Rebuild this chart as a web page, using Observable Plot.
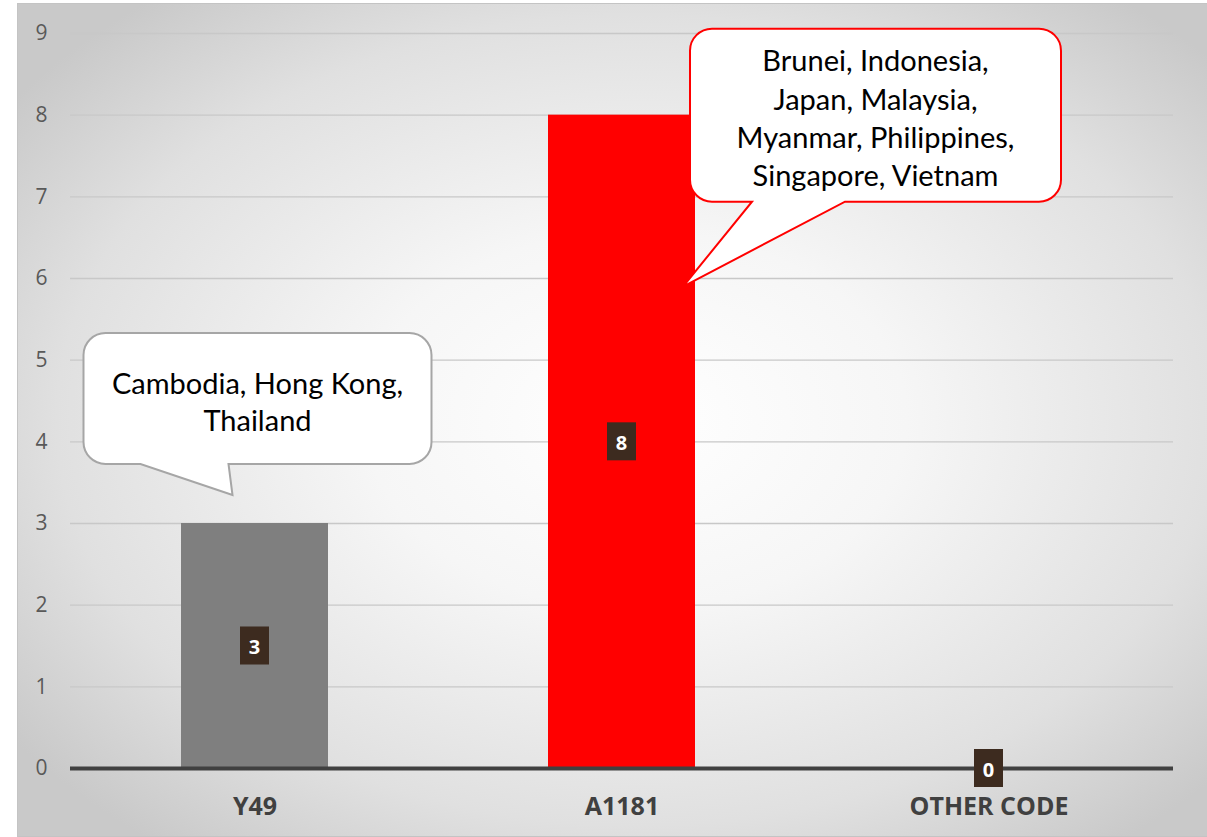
<!DOCTYPE html>
<html><head><meta charset="utf-8">
<script src="https://cdn.jsdelivr.net/npm/d3@7"></script>
<script src="https://cdn.jsdelivr.net/npm/@observablehq/plot@0.6"></script>
<style>
body{margin:0;background:#fff;}
#wrap{position:relative;width:1207px;height:837px;overflow:hidden;}
#bg{position:absolute;left:17px;top:3px;width:1189px;height:832px;border:1px solid #c4c4c4;
  background:radial-gradient(ellipse 65% 65% at 52% 50%, #ffffff 0%, #f6f6f6 35%, #e0e0e0 75%, #c9c9c9 100%);}
#chart{position:absolute;left:0;top:0;}
</style></head><body><div id="wrap"><div id="bg"></div><div id="chart"></div></div>
<script>
// ---- data ----
const categories = ["Y49", "A1181", "OTHER CODE"];
const values = [3, 8, 0];
const barColors = ["#7f7f7f", "#ff0000", "#a5a5a5"];
const yTicks = [0, 1, 2, 3, 4, 5, 6, 7, 8, 9];
const calloutCategories = ["Y49", "A1181"];
const calloutLines = [
  ["Cambodia, Hong Kong,", "Thailand"],
  ["Brunei, Indonesia,", "Japan, Malaysia,", "Myanmar, Philippines,", "Singapore, Vietnam"]
];

// ---- layout (pixel offsets relative to bar centre / bar top) ----
const calloutLayout = {
  "Y49":   {x0:-171, x1:177, y0:-190, y1:-59, bx0:-114, bx1:-26, tx:-22, ty:-28, textX:3, lineY:[-141,-104], stroke:"#a6a6a6"},
  "A1181": {x0:68.5, x1:439.5, y0:-86, y1:87, bx0:130.5, bx1:223.5, tx:61.5, ty:172, textX:254, lineY:[-55,-16,22,60], stroke:"#ff0000"}
};

const data = categories.map((c, i) => ({cat: c, value: values[i], color: barColors[i]}));

function bandCenter(scales, c) {
  const bw = scales.x.bandwidth ? scales.x.bandwidth() : 0;
  return scales.x(c) + bw / 2;
}

function calloutMark(index, scales) {
  const g = d3.create("svg:g");
  calloutCategories.forEach((cat, i) => {
    const L = calloutLayout[cat];
    const v = values[categories.indexOf(cat)];
    const cx = bandCenter(scales, cat), top = scales.y(v);
    const x0 = cx + L.x0, x1 = cx + L.x1, y0 = top + L.y0, y1 = top + L.y1, r = 22;
    const p = `M${x0 + r},${y0} H${x1 - r} A${r},${r} 0 0 1 ${x1},${y0 + r} V${y1 - r} A${r},${r} 0 0 1 ${x1 - r},${y1}` +
      ` H${cx + L.bx1} L${cx + L.tx},${top + L.ty} L${cx + L.bx0},${y1} H${x0 + r} A${r},${r} 0 0 1 ${x0},${y1 - r}` +
      ` V${y0 + r} A${r},${r} 0 0 1 ${x0 + r},${y0} Z`;
    g.append("path").attr("d", p).attr("fill", "#fff").attr("stroke", L.stroke).attr("stroke-width", 2);
    calloutLines[i].forEach((t, j) => {
      g.append("text").attr("x", cx + L.textX).attr("y", top + L.lineY[j])
        .attr("text-anchor", "middle").attr("dominant-baseline", "central")
        .attr("font-family", "Lato, 'Open Sans', sans-serif").attr("font-size", 29).attr("fill", "#000")
        .text(t);
    });
  });
  return g.node();
}

function labelMark(index, scales) {
  const g = d3.create("svg:g");
  categories.forEach((cat, i) => {
    const cx = bandCenter(scales, cat), cy = scales.y(values[i] / 2);
    g.append("rect").attr("x", cx - 14.5).attr("y", cy - 19).attr("width", 29).attr("height", 38).attr("fill", "#3d2b1f");
    g.append("text").attr("x", cx).attr("y", cy + 1).attr("text-anchor", "middle").attr("dominant-baseline", "central")
      .attr("font-family", "'Open Sans', sans-serif").attr("font-weight", "bold").attr("font-size", 20).attr("fill", "#fff")
      .text(String(values[i]));
  });
  return g.node();
}

const chart = Plot.plot({
  width: 1207, height: 837,
  marginLeft: 70, marginRight: 34, marginTop: 33, marginBottom: 69,
  style: {background: "transparent", fontFamily: "'Open Sans', sans-serif", overflow: "visible"},
  x: {domain: categories, paddingInner: 0.6, paddingOuter: 0.3, label: null},
  y: {domain: [0, 9], label: null},
  marks: [
    Plot.gridY(yTicks, {stroke: "#c8c8c8", strokeOpacity: 1, strokeWidth: 1.3}),
    Plot.barY(data, {x: "cat", y: "value", fill: "color"}),
    Plot.ruleY([0], {stroke: "#404040", strokeWidth: 4}),
    Plot.axisY(yTicks, {tickSize: 0, tickPadding: 23, fontSize: 21, color: "#595959", label: null, tickFormat: d3.format("d")}),
    Plot.axisX({tickSize: 0, tickPadding: 29, fontSize: 25, fontWeight: "bold", color: "#404040", label: null}),
    calloutMark,
    labelMark
  ]
});
document.getElementById("chart").appendChild(chart);
</script>
</body></html>
